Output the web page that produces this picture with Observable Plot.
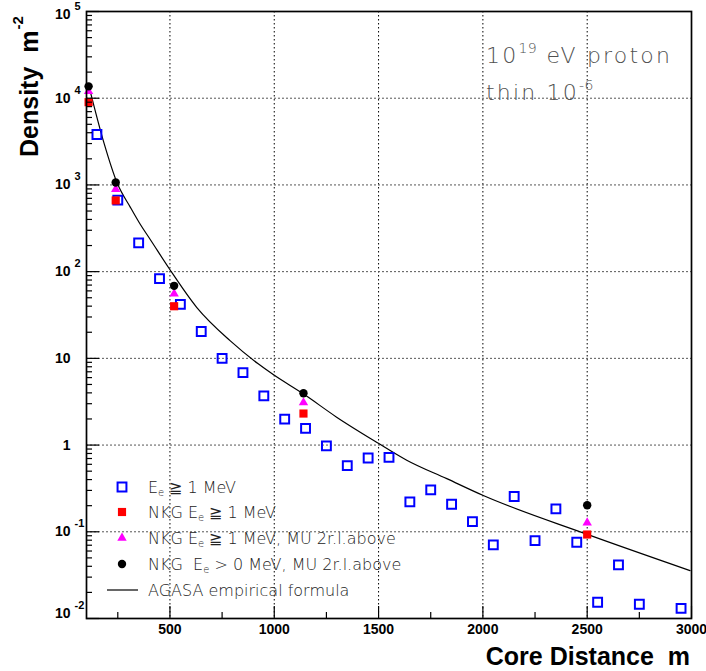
<!DOCTYPE html>
<html>
<head>
<meta charset="utf-8">
<script src="https://cdn.jsdelivr.net/npm/d3@7"></script>
<script src="https://cdn.jsdelivr.net/npm/@observablehq/plot@0.6"></script>
<style>
  body { margin: 0; background: #fff; }
  #chart svg { display: block; }
</style>
</head>
<body>
<div id="chart"></div>
<script>
// Lateral electron density of a 10^19 eV proton shower (thinning 10^-6)

// Simulated density, electrons with E >= 1 MeV
const coreDist = [150, 250, 350, 450, 550, 650, 750, 850, 950, 1050, 1150, 1250, 1350, 1450,
  1550, 1650, 1750, 1850, 1950, 2050, 2150, 2250, 2350, 2450, 2550, 2650, 2750, 2950];
const densEe1 = [3810, 667, 215, 83, 42, 20.4, 10.0, 6.85, 3.69, 1.99, 1.56, 0.98, 0.58, 0.71,
  0.72, 0.221, 0.304, 0.208, 0.131, 0.0706, 0.255, 0.079, 0.184, 0.0757, 0.0154, 0.0415, 0.0146, 0.0131];

// NKG fits
const nkgDist = [110, 240, 520, 1140, 2500];
const densNkgEe1 = [9000, 662, 39.9, 2.31, 0.093];
const densNkgEe1Mu = [12000, 891, 55.5, 3.09, 0.127];
const densNkgEe0Mu = [13700, 1066, 68.6, 3.96, 0.202];

// AGASA empirical lateral distribution
const agasaDist = [116, 184, 247, 311, 359, 404, 497, 628, 788, 923, 995, 1139, 1299, 1499,
  1635, 1827, 2002, 2494, 2993];
const agasaDens = [12500, 3030, 1050, 548, 347, 238, 108, 38.8, 16.0, 8.65, 6.5, 3.90, 2.10, 1.05,
  0.67, 0.41, 0.262, 0.0946, 0.0357];

// Axes
const xTicks = [500, 1000, 1500, 2000, 2500, 3000];
const xMinorTicks = [250, 750, 1250, 1750, 2250, 2750];
const xGrid = [500, 1000, 1500, 2000, 2500];
const yTicks = [1e-2, 1e-1, 1, 10, 1e2, 1e3, 1e4, 1e5];
const yTickBase = ["10", "10", "1", "10", "10", "10", "10", "10"];
const yTickExp = ["-2", "-1", "", "", "2", "3", "4", "5"];
const yGrid = [1e-1, 1, 10, 1e2, 1e3, 1e4];
const yMinorTicks = d3.range(-2, 5).flatMap(e => d3.range(2, 10).map(k => k * 10 ** e));

const W = 706, H = 671;
const mL = 86, mR = 15, mT = 11, mB = 53;
const frameW = W - mL - mR, frameH = H - mT - mB;

const rows = (xs, ys) => xs.map((x, i) => ({x, y: ys[i]}));
const blueRows = rows(coreDist, densEe1);
const redRows = rows(nkgDist, densNkgEe1);
const triRows = rows(nkgDist, densNkgEe1Mu);
const dotRows = rows(nkgDist, densNkgEe0Mu);
const agasaRows = rows(agasaDist, agasaDens);
const yLabelRows = yTicks.map((v, i) => ({v, base: yTickBase[i], exp: yTickExp[i]}));
// the outermost decade labels sit slightly inside the frame
const yLabelTop = yLabelRows.filter(d => d.v === 1e5);
const yLabelBottom = yLabelRows.filter(d => d.v === 1e-2);
const yLabelMid = yLabelRows.filter(d => d.v !== 1e5 && d.v !== 1e-2);

const BLUE = "#0000ff", RED = "#ff0000", MAGENTA = "#ff00ff";
const tickFont = "'Liberation Sans', Arial, sans-serif";
const SQ_R = 5;

const yLabelMarks = (data, shift) => [
  Plot.text(data, {y: "v", frameAnchor: "left", dx: -16, dy: shift, textAnchor: "end", text: "base",
    fontSize: 14, fontWeight: "bold", fill: "#000"}),
  Plot.text(data, {y: "v", frameAnchor: "left", dx: -12, dy: shift - 8, textAnchor: "start", text: "exp",
    fontSize: 11, fontWeight: "bold", fill: "#000"})
];

const chart = Plot.plot({
  width: W, height: H,
  marginLeft: mL, marginRight: mR, marginTop: mT, marginBottom: mB,
  style: {background: "white", fontFamily: tickFont, overflow: "visible"},
  x: {domain: [100, 3000], axis: null},
  y: {type: "log", domain: [0.01, 1e5], axis: null},
  marks: [
    // dotted grid
    Plot.ruleX(xGrid, {stroke: "#000", strokeWidth: 1, strokeDasharray: "1.5,2.5"}),
    Plot.ruleY(yGrid, {stroke: "#555", strokeWidth: 1, strokeDasharray: "2,2"}),
    // AGASA curve
    Plot.line(agasaRows, {x: "x", y: "y", curve: "monotone-x", stroke: "#000", strokeWidth: 1.2}),
    // simulated points
    Plot.dot(blueRows, {x: "x", y: "y", symbol: "square", r: SQ_R, fill: "none", stroke: BLUE, strokeWidth: 2}),
    Plot.dot(redRows, {x: "x", y: "y", symbol: "square", r: 4.6, fill: RED, stroke: "none"}),
    Plot.dot(triRows, {x: "x", y: "y", symbol: "triangle", r: 3.5, fill: MAGENTA, stroke: "none"}),
    Plot.dot(dotRows, {x: "x", y: "y", symbol: "circle", r: 4.2, fill: "#000", stroke: "none"}),
    // inner ticks
    Plot.ruleX(xTicks, {stroke: "#000", strokeWidth: 1.2, insetTop: frameH - 12}),
    Plot.ruleX(xMinorTicks, {stroke: "#000", strokeWidth: 1.2, insetTop: frameH - 6}),
    Plot.ruleY(yTicks, {stroke: "#000", strokeWidth: 1.2, insetRight: frameW - 13}),
    Plot.ruleY(yMinorTicks, {stroke: "#000", strokeWidth: 1.2, insetRight: frameW - 6}),
    Plot.frame({stroke: "#000", strokeWidth: 1.7}),
    // tick labels
    Plot.text(xTicks, {x: d => d, frameAnchor: "bottom", dy: 15, text: d => String(d),
      fontSize: 14, fontWeight: "bold", fill: "#000"}),
    ...yLabelMarks(yLabelMid, 0),
    ...yLabelMarks(yLabelTop, 3),
    ...yLabelMarks(yLabelBottom, -5)
  ]
});
document.getElementById("chart").append(chart);

const svg = d3.select(chart);

// axis titles
svg.append("text")
  .attr("x", 690).attr("y", 665)
  .attr("text-anchor", "end")
  .attr("font-family", tickFont).attr("font-weight", "bold").attr("font-size", 25)
  .attr("fill", "#000")
  .text("Core Distance\u00a0\u00a0m");

const yt = svg.append("text")
  .attr("transform", "translate(38,157) rotate(-90)")
  .attr("text-anchor", "start")
  .attr("font-family", tickFont).attr("font-weight", "bold").attr("font-size", 25)
  .attr("fill", "#000");
yt.append("tspan").text("Density\u00a0\u00a0m");
yt.append("tspan").attr("dy", -15).attr("dx", 1).attr("font-size", 15).text("-2");

// annotation
const lightFont = "'DejaVu Sans', sans-serif";
const note = svg.append("g")
  .attr("text-anchor", "start")
  .attr("font-family", lightFont).attr("font-weight", 200).attr("fill", "#505050")
  .attr("font-size", 22).attr("letter-spacing", 2.2);
const n1 = note.append("text").attr("x", 486).attr("y", 63);
n1.append("tspan").text("10");
n1.append("tspan").attr("dy", -10).attr("font-size", 14).attr("letter-spacing", 0.5).text("19");
n1.append("tspan").attr("dy", 10).text(" eV proton");
const n2 = note.append("text").attr("x", 486).attr("y", 100);
n2.append("tspan").text("thin 10");
n2.append("tspan").attr("dy", -10).attr("font-size", 14).attr("letter-spacing", 0.5).text("-6");

// legend
const legend = svg.append("g")
  .attr("text-anchor", "start")
  .attr("font-family", lightFont).attr("font-weight", 200).attr("fill", "#222").attr("font-size", 16);
const entries = [
  {y: 487, sym: "blue", parts: [["E"], ["e", "sub"], [" \u2267 1 MeV"]]},
  {y: 512, sym: "red", parts: [["NKG E"], ["e", "sub"], [" \u2267 1 MeV"]]},
  {y: 538, sym: "tri", parts: [["NKG E"], ["e", "sub"], [" \u2267 1 MeV, MU 2r.l.above"]]},
  {y: 564, sym: "dot", parts: [["NKG\u00a0\u00a0E"], ["e", "sub"], [" > 0 MeV, MU 2r.l.above"]]},
  {y: 590, sym: "line", parts: [["AGASA empirical formula"]]}
];
const mx = 122;
for (const e of entries) {
  if (e.sym === "blue") {
    legend.append("path").attr("d", d3.symbol(d3.symbolSquare, Math.PI * SQ_R * SQ_R)())
      .attr("transform", `translate(${mx},${e.y})`).attr("fill", "none").attr("stroke", BLUE).attr("stroke-width", 2);
  } else if (e.sym === "red") {
    legend.append("path").attr("d", d3.symbol(d3.symbolSquare, Math.PI * 4.6 * 4.6)())
      .attr("transform", `translate(${mx},${e.y})`).attr("fill", RED);
  } else if (e.sym === "tri") {
    legend.append("path").attr("d", d3.symbol(d3.symbolTriangle, Math.PI * 3.5 * 3.5)())
      .attr("transform", `translate(${mx},${e.y})`).attr("fill", MAGENTA);
  } else if (e.sym === "dot") {
    legend.append("circle").attr("cx", mx).attr("cy", e.y).attr("r", 4.2).attr("fill", "#000");
  } else {
    legend.append("line").attr("x1", 107).attr("x2", 138).attr("y1", e.y).attr("y2", e.y)
      .attr("stroke", "#000").attr("stroke-width", 1.2);
  }
  const t = legend.append("text").attr("x", 148).attr("y", e.y + 5.5);
  e.parts.forEach(([s, kind], i) => {
    const span = t.append("tspan").text(s);
    if (kind === "sub") span.attr("dy", 3).attr("font-size", 10);
    else if (i > 0 && e.parts[i - 1][1] === "sub") span.attr("dy", -3);
  });
}
</script>
</body>
</html>
